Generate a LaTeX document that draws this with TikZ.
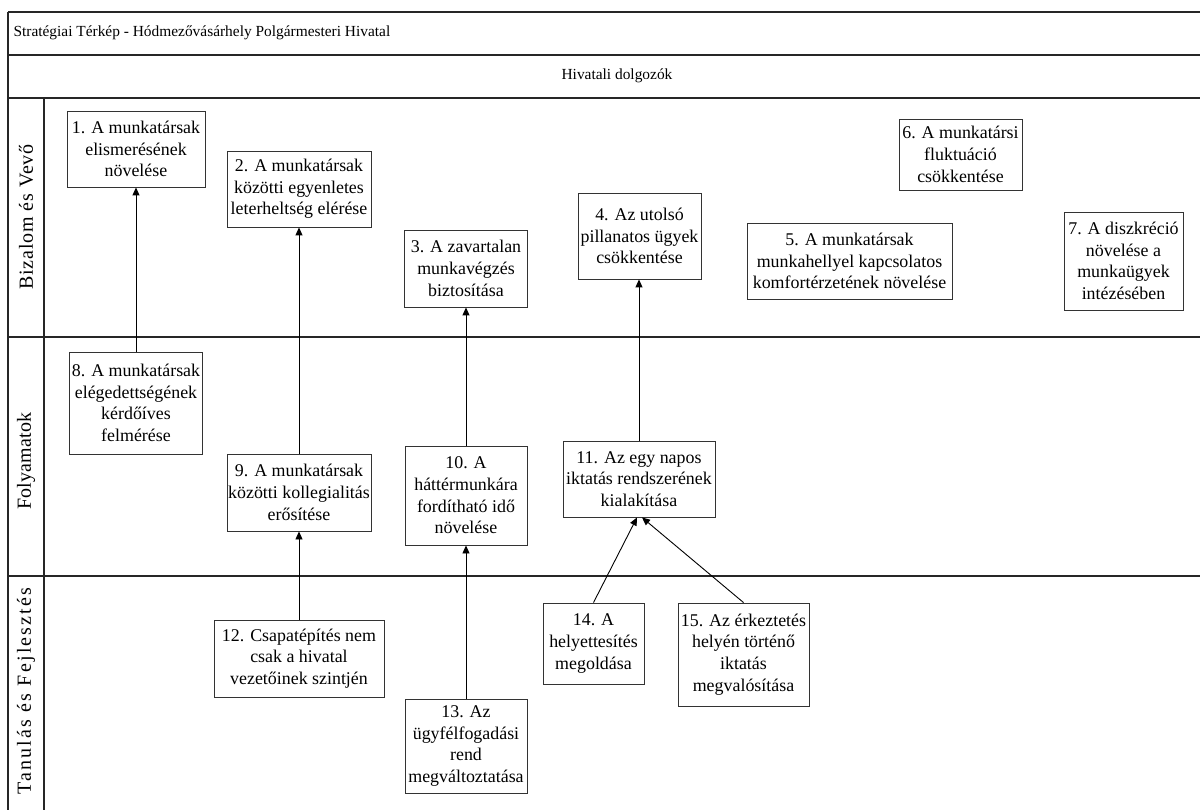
\documentclass[tikz,border=0pt]{standalone}
\usepackage{fontspec}
\setmainfont{Liberation Serif}
\newfontfamily\laneA[LetterSpace=4]{Liberation Serif}
\newfontfamily\laneB[LetterSpace=1]{Liberation Serif}
\newfontfamily\laneC[LetterSpace=11]{Liberation Serif}
\usetikzlibrary{arrows.meta}
\tikzset{
  box/.style={draw=black!80, line width=0.9pt, fill=white, align=center, inner sep=0pt,
    font=\fontsize{17.9}{21.7}\selectfont},
  arr/.style={draw=black, line width=0.9pt, -{Triangle[length=8pt,width=7pt]}},
  lane/.style={draw=black!85, line width=1.3pt},
  lanelabel/.style={rotate=90, font=\fontsize{20}{22}\selectfont},
  hdr/.style={font=\fontsize{15.4}{18}\selectfont}
}
\begin{document}
\begin{tikzpicture}[x=1pt,y=-1pt]
\useasboundingbox (0,0) rectangle (1200,810);
% frame and lanes
\draw[lane] (8,12) -- (1200,12);
\draw[lane] (8,55) -- (1200,55);
\draw[lane] (8,98) -- (1200,98);
\draw[lane] (8,337) -- (1200,337);
\draw[lane] (8,576) -- (1200,576);
\draw[lane] (8,12) -- (8,810);
\draw[lane] (44,98) -- (44,810);
% headers
\node[hdr, anchor=west] (title) at (10,33) {Stratégiai Térkép - Hódmezővásárhely Polgármesteri Hivatal};
\node[hdr] (persp) at (617,76) {Hivatali dolgozók};
\node[lanelabel] (l1) at (26,217) {\laneA Bizalom és Vevő};
\node[lanelabel] (l2) at (26,461) {\laneB Folyamatok};
\node[lanelabel] (l3) at (26,691) {\laneC Tanulás és Fejlesztés};
% lane 1
\node[box, minimum width=138, minimum height=76] (b1) at (136,149) {1. A munkatársak\\elismerésének\\növelése};
\node[box, minimum width=144, minimum height=76] (b2) at (299,189) {2. A munkatársak\\közötti egyenletes\\leterheltség elérése};
\node[box, minimum width=123, minimum height=77] (b3) at (466,268.5) {3. A zavartalan\\munkavégzés\\biztosítása};
\node[box, minimum width=123, minimum height=86] (b4) at (639.5,236) {4. Az utolsó\\pillanatos ügyek\\csökkentése};
\node[box, minimum width=205, minimum height=76] (b5) at (849.5,261) {5. A munkatársak\\munkahellyel kapcsolatos\\komfortérzetének növelése};
\node[box, minimum width=123, minimum height=71] (b6) at (960.5,154.5) {6. A munkatársi\\fluktuáció\\csökkentése};
\node[box, minimum width=119, minimum height=98] (b7) at (1123.5,261) {7. A diszkréció\\növelése a\\munkaügyek\\intézésében};
% lane 2
\node[box, minimum width=133, minimum height=102] (b8) at (136,403) {8. A munkatársak\\elégedettségének\\kérdőíves\\felmérése};
\node[box, minimum width=144, minimum height=77] (b9) at (299,492.5) {9. A munkatársak\\közötti kollegialitás\\erősítése};
\node[box, minimum width=122, minimum height=99] (b10) at (466,495.5) {10. A\\háttérmunkára\\fordítható idő\\növelése};
\node[box, minimum width=152, minimum height=76] (b11) at (639,479) {11. Az egy napos\\iktatás rendszerének\\kialakítása};
% lane 3
\node[box, minimum width=170, minimum height=77] (b12) at (299,658.5) {12. Csapatépítés nem\\csak a hivatal\\vezetőinek szintjén};
\node[box, minimum width=122, minimum height=94] (b13) at (466,746) {13. Az\\ügyfélfogadási\\rend\\megváltoztatása};
\node[box, minimum width=101, minimum height=81] (b14) at (593.5,643.5) {14. A\\helyettesítés\\megoldása};
\node[box, minimum width=131, minimum height=103] (b15) at (743.5,654.5) {15. Az érkeztetés\\helyén történő\\iktatás\\megvalósítása};
% connectors
\draw[arr] (b8.north) -- (b8.north |- b1.south);
\draw[arr] (b9.north) -- (b2.south);
\draw[arr] (b10.north) -- (b3.south);
\draw[arr] (b11.north) -- (b11.north |- b4.south);
\draw[arr] (b12.north) -- (b12.north |- b9.south);
\draw[arr] (b13.north) -- (b10.south);
\draw[arr] (b14.north) -- ([xshift=-2pt]b11.south);
\draw[arr] (b15.north) -- ([xshift=3pt]b11.south);
\end{tikzpicture}
\end{document}
